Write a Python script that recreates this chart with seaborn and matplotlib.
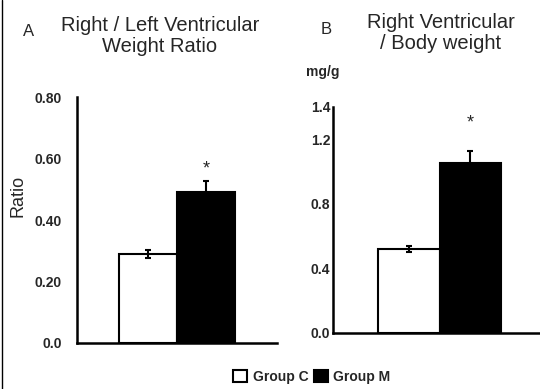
"""
Right / left ventricular weight ratio and RV / body weight,
group C vs group M, two bar panels with a shared legend.
"""
import matplotlib
matplotlib.use('Agg')
import matplotlib.pyplot as plt
from matplotlib.patches import Patch
from matplotlib.lines import Line2D
import seaborn as sns

groups = ['Group C', 'Group M']
colors = ['white', 'black']

rv_lv_ratio = [0.29, 0.49]
rv_lv_err = [0.012, 0.037]
rv_lv_ticks = [0.0, 0.2, 0.4, 0.6, 0.8]
rv_lv_labels = ['0.0', '0.20', '0.40', '0.60', '0.80']

rv_bw = [0.52, 1.055]
rv_bw_err = [0.02, 0.075]
rv_bw_ticks = [0.0, 0.4, 0.8, 1.2, 1.4]
rv_bw_labels = ['0.0', '0.4', '0.8', '1.2', '1.4']

sns.set_style('white')
plt.rcParams['font.family'] = ['Liberation Sans', 'DejaVu Sans']


def draw_panel(ax, values, errors, ticks, labels, ylim, xlim, pad, star_offset):
    """

    """
    sns.barplot(x=groups, y=values, hue=groups, palette=colors, edgecolor='black',
                linewidth=1.5, width=1, legend=False, ax=ax)
    ax.errorbar(range(len(groups)), values, yerr=errors, fmt='none',
                ecolor='black', elinewidth=1.5, capsize=2, capthick=1.5)

    # significance star over group M
    ax.annotate('*', xy=(1, values[1] + errors[1]), xytext=(0, star_offset),
                textcoords='offset points', ha='center', va='center', fontsize=13)

    ax.set_ylim(*ylim)
    ax.set_xlim(*xlim)
    ax.set_yticks(ticks)
    ax.set_yticklabels(labels, fontsize=10, fontweight='bold')
    ax.set_xticks([])
    ax.set_xlabel('')
    ax.set_ylabel('')
    for side in ['top', 'right']:
        ax.spines[side].set_visible(False)
    for side in ['left', 'bottom']:
        ax.spines[side].set_linewidth(1.8)
        ax.spines[side].set_color('black')
    ax.tick_params(axis='y', length=0, pad=pad)


fig = plt.figure(figsize=(5.4, 3.89), dpi=100)

ax_a = fig.add_axes([0.1426, 0.1183, 0.370, 0.632])
draw_panel(ax_a, rv_lv_ratio, rv_lv_err, rv_lv_ticks, rv_lv_labels,
           (0, 0.8), (-1.22, 2.22), 11, 9)
ax_a.set_ylabel('Ratio', fontsize=13)
ax_a.yaxis.set_label_coords(-0.255, 0.6)

ax_b = fig.add_axes([0.6167, 0.144, 0.383, 0.581])
draw_panel(ax_b, rv_bw, rv_bw_err, rv_bw_ticks, rv_bw_labels,
           (0, 1.4), (-1.22, 2.12), 2, 20)

# panel letters and titles
fig.text(29 / 540, 1 - 31 / 389, 'A', fontsize=12, ha='center', va='center')
fig.text(160 / 540, 1 - 36 / 389, 'Right / Left Ventricular\nWeight Ratio',
         fontsize=14.5, ha='center', va='center', linespacing=1.1)
fig.text(326 / 540, 1 - 29 / 389, 'B', fontsize=12, ha='center', va='center')
fig.text(441 / 540, 1 - 33 / 389, 'Right Ventricular\n/ Body weight',
         fontsize=14.5, ha='center', va='center', linespacing=1.1)
fig.text(323 / 540, 1 - 72 / 389, 'mg/g', fontsize=10, fontweight='bold',
         ha='center', va='center')

# shared legend
handles = [Patch(facecolor=c, edgecolor='black', linewidth=1.5) for c in colors]
fig.legend(handles, groups, loc='center', bbox_to_anchor=(312 / 540, 1 - 377 / 389),
           ncol=2, frameon=False, handlelength=1.0, handleheight=1.0,
           handletextpad=0.4, columnspacing=0.4,
           prop={'size': 10, 'weight': 'bold'})

# thin frame line on the left edge
fig.add_artist(Line2D([2 / 540, 2 / 540], [0, 1], transform=fig.transFigure,
                      color='black', linewidth=1))

fig.savefig('out.png', dpi=100)
